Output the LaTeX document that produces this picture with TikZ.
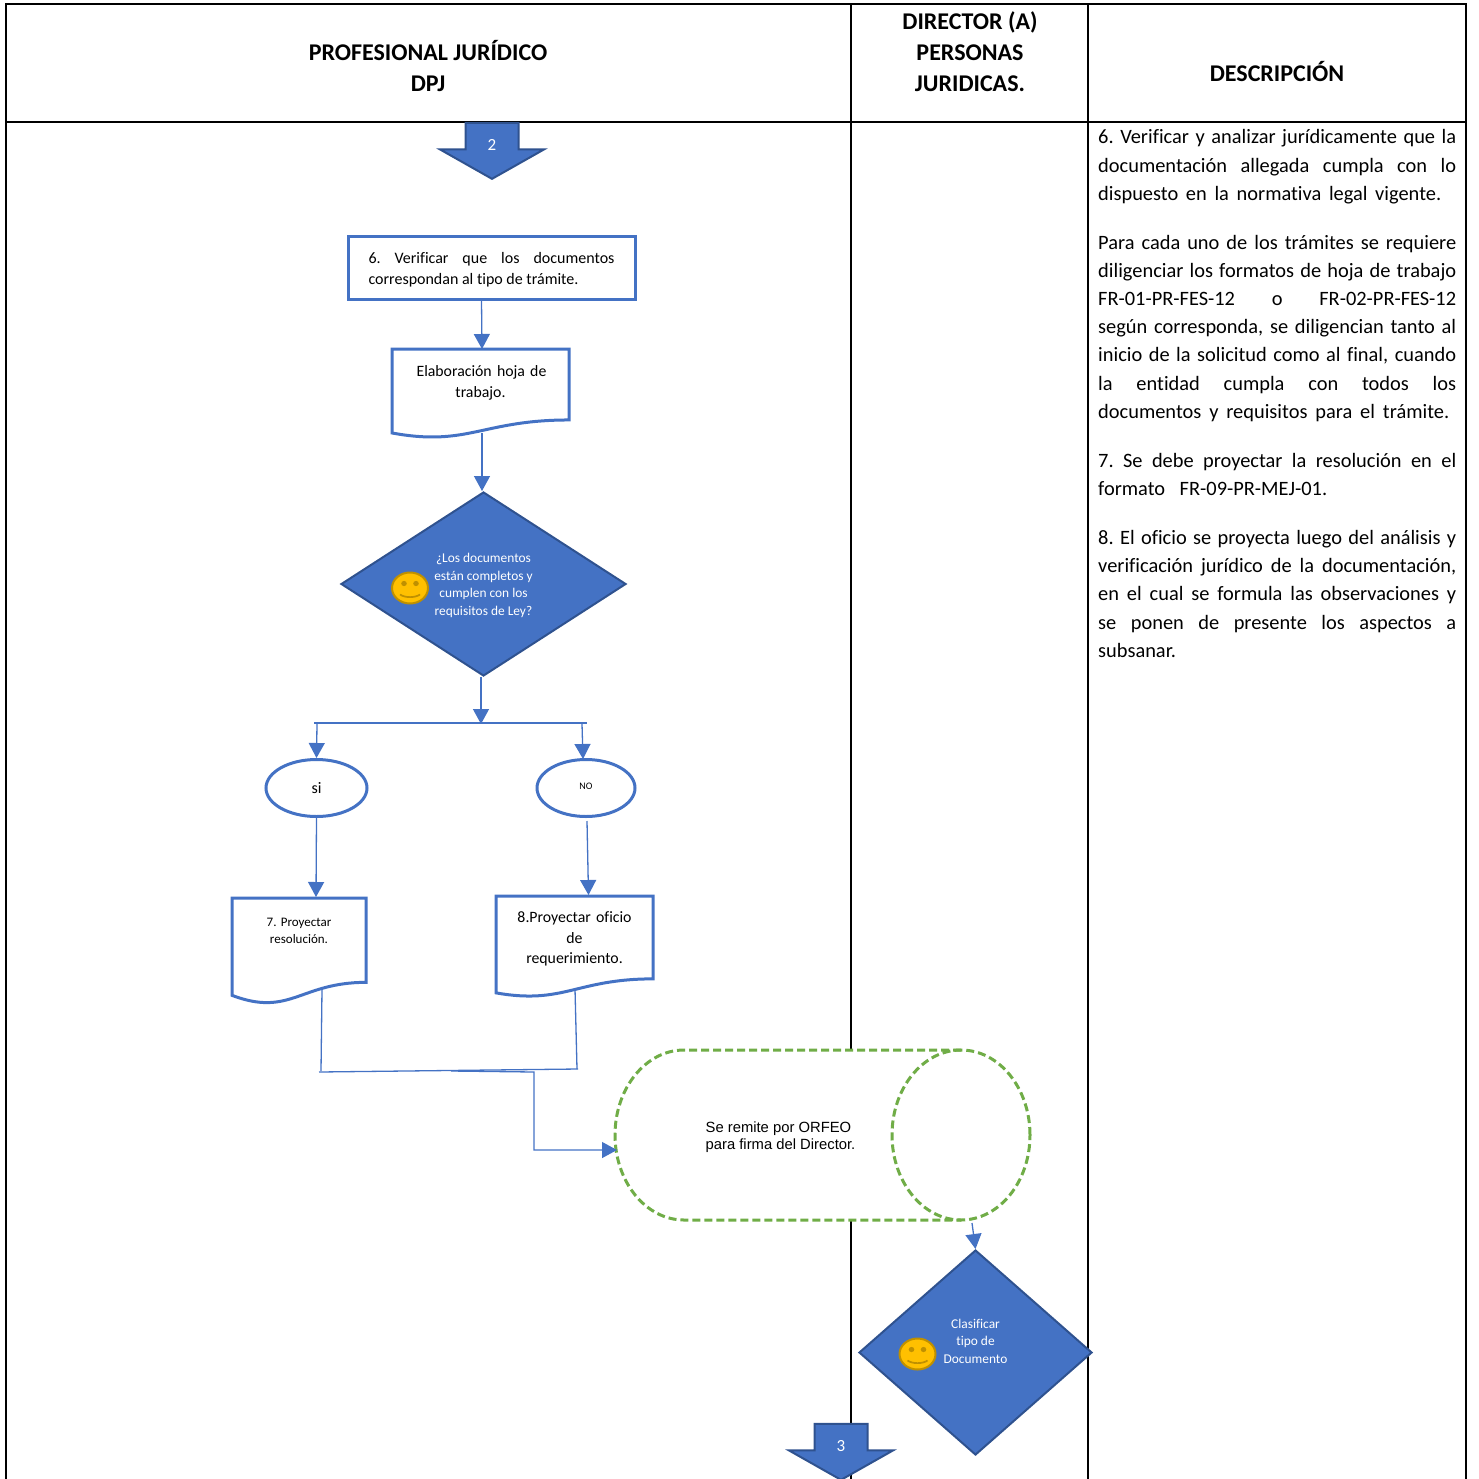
\documentclass[tikz,border=0pt]{standalone}
\usepackage{fontspec}
\setmainfont{Carlito}[Ligatures=NoCommon]
\newfontfamily\arialfont{Liberation Sans}
\usepackage{tikz}
\usetikzlibrary{positioning, arrows.meta, shapes.geometric, shapes.arrows}
\definecolor{flowblue}{HTML}{4472C4}
\definecolor{darkblue}{HTML}{2F528F}
\definecolor{dashgreen}{HTML}{70AD47}
\definecolor{smileyfill}{HTML}{FFC000}
\definecolor{smileyline}{HTML}{BF9000}
\tikzset{
>={Triangle[length=15pt,width=16pt]}, % big filled heads as in the flow chart
cell/.style={draw=black, line width=2pt, inner sep=0pt, outer sep=0pt},
headtext/.style={inner sep=0pt, align=center, font=\fontsize{24}{31}\selectfont\bfseries},
wire/.style={draw=flowblue, line width=1.3pt},
flow/.style={wire, ->},
stepbox/.style={draw=flowblue, line width=3pt, fill=white},
docbox/.style={anchor=north, inner xsep=0pt, inner ysep=0pt, outer sep=0pt, align=center, font=\fontsize{15.8}{20.5}\selectfont},
docline/.style={draw=flowblue, line width=3pt},
dashline/.style={draw=dashgreen, line width=3pt, dash pattern=on 8pt off 4pt},
answer/.style={ellipse, draw=flowblue, line width=3pt, fill=white, inner sep=0pt},
decision/.style={diamond, draw=darkblue, fill=flowblue, line width=2pt, inner sep=0pt},
decisiontext/.style={inner sep=0pt, text=white, align=center, font=\fontsize{13.4}{17.6}\selectfont},
offpage/.style={single arrow, draw=darkblue, fill=flowblue, line width=2pt, shape border rotate=270, inner ysep=0pt, inner xsep=20pt, text width=11pt, align=center, text height=11pt, text depth=0pt, minimum height=56pt, minimum width=102pt, single arrow head extend=25.5pt, single arrow head indent=0pt, single arrow tip angle=121, text=white, font=\fontsize{17}{18}\selectfont},
smiley/.pic={
\draw[fill=smileyfill, draw=smileyline, line width=2pt] (0,0) ellipse (18 and 15.5);
\fill[smileyline] (-6,-4.5) ellipse (2.8 and 2.6) (6,-4.5) ellipse (2.8 and 2.6);
\draw[smileyline, line width=1.7pt] (-10,6.5) .. controls (-5,10) and (5,10) .. (10,6.5);
},
}
\begin{document}
\begin{tikzpicture}[x=1pt,y=-1pt]
\useasboundingbox (0,0) rectangle (1478,1479);

% table
\node[cell, anchor=north west, minimum width=845pt, minimum height=118pt] (hprof) at (6,4) {};
\node[cell, right=0pt of hprof, minimum width=237pt, minimum height=118pt] (hdir) {};
\node[cell, right=0pt of hdir, minimum width=378pt, minimum height=118pt] (hdesc) {};
\node[cell, below=0pt of hprof, minimum width=845pt, minimum height=1400pt] (bprof) {};
\node[cell, below=0pt of hdir, minimum width=237pt, minimum height=1400pt] (bdir) {};
\node[cell, below=0pt of hdesc, minimum width=378pt, minimum height=1400pt] (bdesc) {};
\node[headtext] (hproftext) at (428,66.5) {PROFESIONAL JURÍDICO\\DPJ};
\node[headtext] (hdirtext) at (970,52) {DIRECTOR (A)\\PERSONAS\\JURIDICAS.};
\node[headtext] (hdesctext) at (1277,72) {DESCRIPCIÓN};

% description column
\node[anchor=north west, inner sep=0pt, text width=358pt, align=justify, font=\fontsize{20.4}{28.15}\selectfont] (desctext) at (1098,129.5) {\frenchspacing\parskip=21pt\tolerance=10000\hbadness=10000\hfuzz=20pt\parindent=0pt
\parfillskip=15pt 6. Verificar y analizar jurídicamente que la\linebreak documentación allegada cumpla con lo\linebreak dispuesto en la normativa legal vigente.\par
\parfillskip=7pt Para cada uno de los trámites se requiere\linebreak diligenciar los formatos de hoja de trabajo\linebreak FR-01-PR-FES-12 o FR-02-PR-FES-12\linebreak según corresponda, se diligencian tanto al\linebreak inicio de la solicitud como al final, cuando\linebreak la entidad cumpla con todos los\linebreak documentos y requisitos para el trámite.\par
\parfillskip=129pt 7. Se debe proyectar la resolución en el\linebreak formato FR-09-PR-MEJ-01.\par
\parfillskip=0pt plus 1fil 8. El oficio se proyecta luego del análisis y\linebreak verificación jurídico de la documentación,\linebreak en el cual se formula las observaciones y\linebreak se ponen de presente los aspectos a\linebreak subsanar.\par};

% flow chart, first column
\node[offpage, anchor=tip] (start) at (492,180) {\raisebox{-2pt}{2}};
\node[stepbox, minimum width=287pt, minimum height=62pt] (verify) at (491.5,268) {};
\node[inner sep=0pt, text width=246pt, align=justify, font=\fontsize{16}{21}\selectfont] (verifytext) at (491.5,270) {\frenchspacing 6. Verificar que los documentos\linebreak correspondan al tipo de trámite.};
\node[docbox, text width=177pt, text depth=39pt, inner ysep=17pt] (hoja) at (480.5,349) {\hspace*{2pt}Elaboración hoja de\\trabajo.};
\node[decision, minimum width=285pt, minimum height=184pt, aspect=1.55] (dec) at (483.5,584) {};
\node[decisiontext] (dectext) at (483.5,585.5) {¿Los documentos\\están completos y\\cumplen con los\\requisitos de Ley?};
\pic at (410,588) {smiley};
\coordinate (busmid) at (481,724);
\coordinate (busleft) at (314,723);
\coordinate (busright) at (587,723);
\coordinate (busa) at (317,724);
\coordinate (busb) at (582,724);
\node[answer, minimum width=101pt, minimum height=57pt, font=\fontsize{16}{18}\selectfont] (si) at (316.5,788) {si};
\node[answer, minimum width=98pt, minimum height=57pt, font=\fontsize{10}{12}\selectfont] (no) at (586,788) {\raisebox{3pt}{NO}};
\node[docbox, text width=134pt, text depth=49pt, inner ysep=20pt, font=\fontsize{13}{17}\selectfont] (res) at (299,898) {\frenchspacing 7. Proyectar\\resolución.};
\node[docbox, text width=157pt, text depth=54pt, inner ysep=16pt] (oficio) at (574.5,896) {8.Proyectar oficio\\de\\requerimiento.};
\foreach \doc/\ctla/\ctlb/\drop/\rise in {hoja/87/76/14/13, res/66/58/22/13, oficio/77/68/12/14}
  \draw[docline] (\doc.north west) -- (\doc.north east) -- ([yshift=\rise pt]\doc.south east)
    .. controls ([xshift=-\ctla pt, yshift=\rise pt]\doc.south east) and ([xshift=\ctlb pt, yshift=-\drop pt]\doc.south west) .. (\doc.south west) -- cycle;

% merge lines under the two documents
\coordinate (mergea) at (321,1071);
\coordinate (mergeb) at (577,1069);
\coordinate (mergeleft) at (319,1072);
\coordinate (mergeright) at (578,1069);
\coordinate (mergemid) at (451,1071);
\coordinate (mergedown) at (534,1072);

% remite node over the middle line
\node[inner sep=0pt, minimum width=416pt, minimum height=170pt] (orfeo) at (823,1135) {};
\fill[white] (684,1050) arc[start angle=270, end angle=90, x radius=69, y radius=85] -- (961,1220) arc[start angle=90, end angle=-90, x radius=69, y radius=85] -- cycle;
\draw[dashline] (961,1050) -- (684,1050) arc[start angle=270, end angle=90, x radius=69, y radius=85] -- (961,1220);
\node[ellipse, dashline, inner sep=0pt, minimum width=138pt, minimum height=170pt] (orfeocap) at (961,1135) {};
\node[inner sep=0pt, align=left, font=\arialfont\fontsize{14.8}{17}\selectfont] (orfeotext) at (780.5,1137) {Se remite por ORFEO\\para firma del Director.};

\node[decision, minimum width=233pt, minimum height=205pt, aspect=1.137] (clas) at (975.5,1352.5) {};
\node[decisiontext] (clastext) at (975.5,1341) {Clasificar\\tipo de\\Documento};
\pic at (917.5,1354) {smiley};
\node[offpage, anchor=tip] (next) at (841,1481) {\raisebox{-2pt}{3}};

% connectors
\draw[flow] ([xshift=-10pt]verify.south) -- ([xshift=1.5pt]hoja.north);
\draw[flow] ([xshift=1.5pt]hoja.south) -- ([xshift=-1.5pt]dec.north);
\draw[flow] ([xshift=-2.5pt]dec.south) -- (busmid);
\draw[wire] (busleft) -- (busright);
\draw[flow] (busa) -- (si.north);
\draw[flow] (busb) -- (583,759);
\draw[flow] (si.south) -- (316,897);
\draw[flow] ([xshift=1pt,yshift=-3pt]no.south) -- (588.5,895);
\draw[wire] ([xshift=23pt,yshift=6pt]res.south) -- (mergea);
\draw[wire] ([xshift=0.5pt,yshift=4pt]oficio.south) -- (mergeb);
\draw[wire] (mergeleft) -- (mergeright);
\draw[flow] (mergemid) -- (mergedown) -- (534,1150) -- (617,1150);
\draw[flow] ([xshift=11pt,yshift=-1.5pt]orfeocap.south) -- (clas.north);
\end{tikzpicture}
\end{document}
